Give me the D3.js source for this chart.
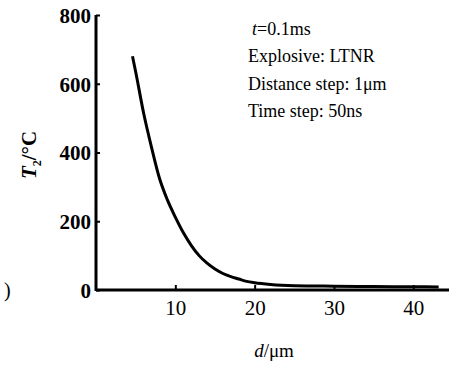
<!DOCTYPE html>
<html>
<head>
<meta charset="utf-8">
<script src="https://cdn.jsdelivr.net/npm/d3@7"></script>
<style>
  body { margin: 0; background: #fff; }
</style>
</head>
<body>
<svg id="chart" width="449" height="367"></svg>
<script>
// distance d (µm) and temperature T2 (°C)
const dist = [4.6, 5, 6, 7, 8, 9, 10, 11, 12, 13, 14, 15, 16, 17, 18, 19, 20, 22, 25, 30, 35, 40, 43.2];
const temp = [680, 635, 515, 415, 325, 262, 212, 167, 130, 100, 78, 61, 48, 39, 32, 25, 21, 16, 12.5, 11, 10, 9.5, 9];
const xTicks = [10, 20, 30, 40];
const yTicks = [0, 200, 400, 600, 800];
const notes = ["t=0.1ms", "Explosive: LTNR", "Distance step: 1\u03bcm", "Time step: 50ns"];

const serif = '"Liberation Serif", "Times New Roman", serif';
const ink = '#000';

const svg = d3.select('#chart');
const x = d3.scaleLinear().domain([0, 44.5]).range([96, 449]);
const y = d3.scaleLinear().domain([0, 800]).range([290, 15]);

// axes
const xAxis = d3.axisBottom(x).tickValues(xTicks).tickSize(-5).tickPadding(10).tickFormat(d3.format('d'));
const yAxis = d3.axisLeft(y).tickValues(yTicks).tickSize(-4).tickPadding(5).tickFormat(d3.format('d'));

const gx = svg.append('g').attr('transform', `translate(0,${y(0)})`).call(xAxis);
const gy = svg.append('g').attr('transform', `translate(${x(0)},0)`).call(yAxis);

[gx, gy].forEach(g => {
  g.select('.domain').remove();
  g.selectAll('.tick line').attr('stroke', ink).attr('stroke-width', 2);
  g.selectAll('.tick text').attr('fill', ink).style('font-family', serif).style('font-size', '21px');
});
gy.selectAll('.tick text').attr('dy', '0.35em').style('font-weight', 'bold');

// axis lines
svg.append('line').attr('x1', x(0)).attr('x2', 449).attr('y1', y(0)).attr('y2', y(0))
  .attr('stroke', ink).attr('stroke-width', 3);
svg.append('line').attr('x1', x(0)).attr('x2', x(0)).attr('y1', y(0) + 1).attr('y2', y(800))
  .attr('stroke', ink).attr('stroke-width', 3);

// curve
const pts = dist.map((d, i) => [d, temp[i]]);
svg.append('path').datum(pts)
  .attr('d', d3.line().x(d => x(d[0])).y(d => y(d[1])).curve(d3.curveMonotoneX))
  .attr('fill', 'none').attr('stroke', ink).attr('stroke-width', 3);

// annotation block
const note = svg.append('text').attr('fill', ink).style('font-family', serif).style('font-size', '18px');
notes.forEach((s, i) => {
  const t = note.append('tspan').attr('x', i === 0 ? 252 : 248).attr('y', 35 + i * 27.3);
  if (i === 0) {
    t.append('tspan').style('font-style', 'italic').text('t');
    t.append('tspan').text(s.slice(1));
  } else {
    t.text(s);
  }
});

// axis titles
const yl = svg.append('text').attr('transform', 'translate(36,155) rotate(-90)')
  .attr('text-anchor', 'middle').attr('fill', ink)
  .style('font-family', serif).style('font-size', '21px').style('font-weight', 'bold');
yl.append('tspan').style('font-style', 'italic').text('T');
yl.append('tspan').style('font-size', '12px').attr('dy', 5).text('2');
yl.append('tspan').attr('dy', -5).text('/\u00b0C');

const xl = svg.append('text').attr('x', 274).attr('y', 357).attr('text-anchor', 'middle')
  .attr('fill', ink).style('font-family', serif).style('font-size', '19px');
xl.append('tspan').style('font-style', 'italic').text('d');
xl.append('tspan').text('/\u03bcm');

// stray bracket from the scan
svg.append('text').attr('x', 4).attr('y', 297).attr('fill', ink)
  .style('font-family', serif).style('font-size', '20px').text(')');
</script>
</body>
</html>
